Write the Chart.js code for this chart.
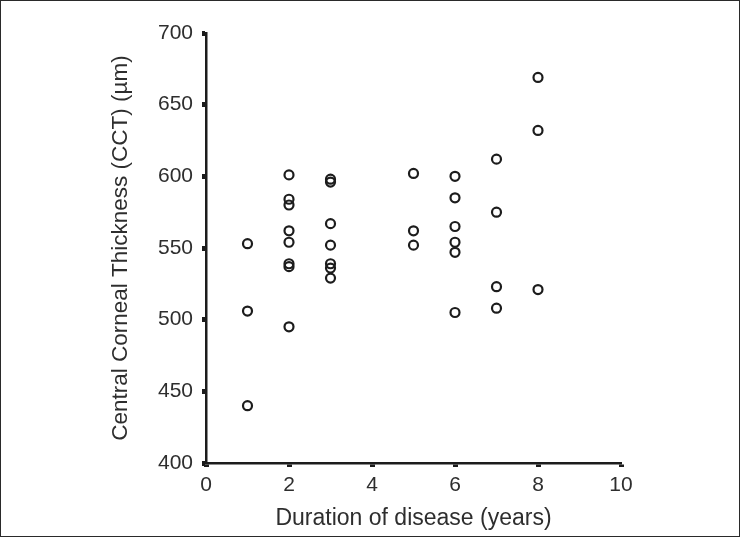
<!DOCTYPE html>
<html>
<head>
<meta charset="utf-8">
<script src="https://cdn.jsdelivr.net/npm/chart.js@4/dist/chart.umd.min.js"></script>
<style>
  html, body { margin: 0; padding: 0; background: #fff; }
  #wrap { width: 740px; height: 537px; position: relative; }
</style>
</head>
<body>
<div id="wrap"><canvas id="cctChart" width="740" height="537"></canvas></div>
<script>
// Duration of disease (years) and CCT (µm)
const durationYears = [1, 1, 1,
    2, 2, 2, 2, 2, 2, 2, 2,
    3, 3, 3, 3, 3, 3, 3,
    5, 5, 5,
    6, 6, 6, 6, 6, 6,
    7, 7, 7, 7,
    8, 8, 8];
const cctValues = [553, 506, 440,
    601, 584, 580, 562, 554, 539, 537, 495,
    598, 596, 567, 552, 539, 536, 529,
    602, 562, 552,
    600, 585, 565, 554, 547, 505,
    612, 575, 523, 508,
    669, 632, 521];

const xTicks = [0, 2, 4, 6, 8, 10];
const yTicks = [400, 450, 500, 550, 600, 650, 700];

const inkColor = '#1c1c1c';
const textColor = '#2e2e2e';

// build point list for the scatter dataset
const points = durationYears.map(function(x, i) {
    return { x: x, y: cctValues[i] };
});

// thin frame round the whole picture
const framePlugin = {
    id: 'frame',
    afterDraw: function(chart) {
        const ctx = chart.ctx;
        ctx.save();
        ctx.strokeStyle = '#2a2a2a';
        ctx.lineWidth = 1;
        ctx.strokeRect(0.5, 0.5, chart.width - 1, chart.height - 1);
        ctx.restore();
    }
};

const ctx = document.getElementById('cctChart').getContext('2d');
new Chart(ctx, {
    type: 'scatter',
    data: {
        datasets: [{
            label: 'CCT',
            data: points,
            pointStyle: 'circle',
            pointRadius: 4.5,
            pointHoverRadius: 4.5,
            pointBorderWidth: 2.2,
            borderColor: inkColor,
            backgroundColor: 'rgba(0,0,0,0)'
        }]
    },
    options: {
        responsive: false,
        animation: false,
        layout: {
            padding: { left: 0, right: 119, top: 33, bottom: 0 }
        },
        plugins: {
            legend: { display: false },
            tooltip: { enabled: false }
        },
        scales: {
            x: {
                type: 'linear',
                min: 0,
                max: 10,
                afterBuildTicks: function(scale) {
                    scale.ticks = xTicks.map(function(v) { return { value: v }; });
                },
                afterFit: function(scale) { scale.height = 74; },
                border: { display: true, color: inkColor, width: 2.5 },
                grid: {
                    drawOnChartArea: false,
                    drawTicks: true,
                    tickLength: 4,
                    tickWidth: 5,
                    tickColor: inkColor
                },
                ticks: {
                    color: textColor,
                    padding: 6,
                    maxRotation: 0,
                    font: { family: '"Liberation Sans", Arial, sans-serif', size: 21 }
                },
                title: {
                    display: true,
                    text: 'Duration of disease (years)',
                    color: textColor,
                    padding: { top: 0, bottom: 5 },
                    font: { family: '"Liberation Sans", Arial, sans-serif', size: 23 }
                }
            },
            y: {
                type: 'linear',
                min: 400,
                max: 700,
                afterBuildTicks: function(scale) {
                    scale.ticks = yTicks.map(function(v) { return { value: v }; });
                },
                afterFit: function(scale) { scale.width = 206; },
                border: { display: true, color: inkColor, width: 2.5 },
                grid: {
                    drawOnChartArea: false,
                    drawTicks: true,
                    tickLength: 4,
                    tickWidth: 5,
                    tickColor: inkColor
                },
                ticks: {
                    color: textColor,
                    padding: 9,
                    font: { family: '"Liberation Sans", Arial, sans-serif', size: 21 }
                },
                title: {
                    display: true,
                    text: 'Central Corneal Thickness (CCT) (µm)',
                    color: textColor,
                    padding: { top: 107, bottom: 0 },
                    font: { family: '"Liberation Sans", Arial, sans-serif', size: 22.5 }
                }
            }
        }
    },
    plugins: [framePlugin]
});
</script>
</body>
</html>
